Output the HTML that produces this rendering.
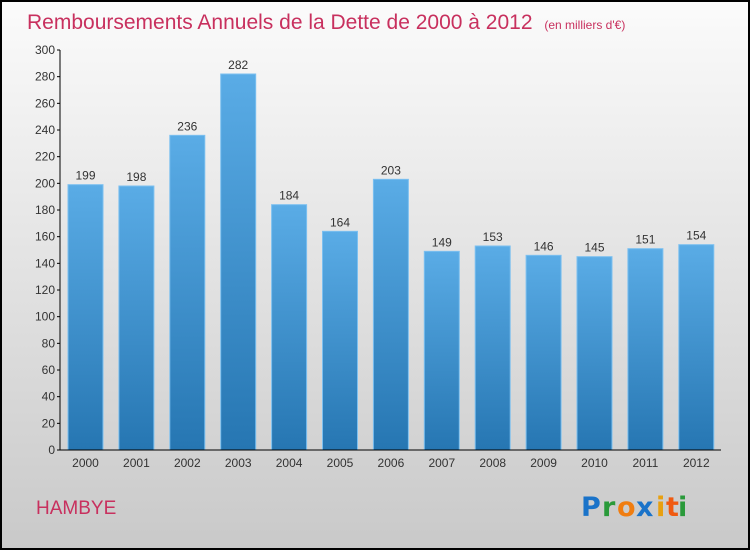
<!DOCTYPE html>
<html><head><meta charset="utf-8">
<style>
html,body{margin:0;padding:0;}
body{width:750px;height:550px;overflow:hidden;font-family:"Liberation Sans",sans-serif;}
</style></head>
<body>
<svg id="chart" width="750" height="550" xmlns="http://www.w3.org/2000/svg">
<defs>
<linearGradient id="bg" x1="0" y1="0" x2="0" y2="1">
<stop offset="0" stop-color="#fbfbfb"/><stop offset="1" stop-color="#c9c9c9"/>
</linearGradient>
<linearGradient id="bar" x1="0" y1="0" x2="0" y2="1">
<stop offset="0" stop-color="#5aace6"/><stop offset="1" stop-color="#2676b2"/>
</linearGradient>
</defs>
<rect x="1" y="1" width="748" height="548" fill="url(#bg)" stroke="#000" stroke-width="2"/>
<text x="27" y="29" font-size="21" fill="#c8305e">Remboursements Annuels de la Dette de 2000 à 2012 <tspan font-size="12" dx="6">(en milliers d'€)</tspan></text>
<g id="grid"></g>
<g id="bars"></g>
<line x1="60" y1="50" x2="60" y2="450" stroke="#000" stroke-width="1"/>
<line x1="57" y1="450" x2="721" y2="450" stroke="#000" stroke-width="1"/>
<g id="axes"></g>
<text x="36" y="514" font-size="19" fill="#c8305e">HAMBYE</text>
<g font-size="27" font-weight="bold" font-family="'DejaVu Sans',sans-serif">
<text x="581" y="516" fill="#1a73c9">P</text><text x="602" y="516" fill="#2a9a3a">r</text><text x="617" y="516" fill="#f07d10">o</text><text x="636" y="516" fill="#1a73c9">x</text><text x="656" y="516" fill="#e8a010">i</text><text x="666" y="516" fill="#f05a10">t</text><text x="678" y="516" fill="#2a9a3a">i</text>
</g>
</svg>
<script>
const categories=["2000","2001","2002","2003","2004","2005","2006","2007","2008","2009","2010","2011","2012"];
const values=[199,198,236,282,184,164,203,149,153,146,145,151,154];
const yTicks=[0,20,40,60,80,100,120,140,160,180,200,220,240,260,280,300];
const NS="http://www.w3.org/2000/svg";
const y0=450,yTop=50,yMax=300;
function yScale(v){return y0-(v/yMax)*(y0-yTop);}
function xScale(i){return 68+i*50.9;}
const bw=35;
const bars=document.getElementById('bars'),axes=document.getElementById('axes');
function mk(t,a,p){const e=document.createElementNS(NS,t);for(const k in a)e.setAttribute(k,a[k]);p.appendChild(e);return e;}
yTicks.forEach(v=>{
  const y=yScale(v);
  const l=mk('line',{x1:57,x2:60,y1:y,y2:y,stroke:'#000'},axes);
  
  
  const t=mk('text',{x:55,y:y+4,'text-anchor':'end','font-size':12,fill:'#333'},axes);
  
  
  t.textContent=v;
});
categories.forEach((c,i)=>{
  const x=xScale(i),y=yScale(values[i]);
  const r=mk('rect',{x:x,y:y,width:bw,height:y0-y,fill:'url(#bar)',stroke:'#7cc0f0','stroke-width':1},bars);
  
  
  const v=mk('text',{x:x+bw/2,y:y-5,'text-anchor':'middle','font-size':12,fill:'#333'},bars);
  
  
  v.textContent=values[i];
  const t=mk('text',{x:x+bw/2,y:467,'text-anchor':'middle','font-size':12,fill:'#333'},axes);
  
  
  t.textContent=c;
});
</script>
</body></html>
